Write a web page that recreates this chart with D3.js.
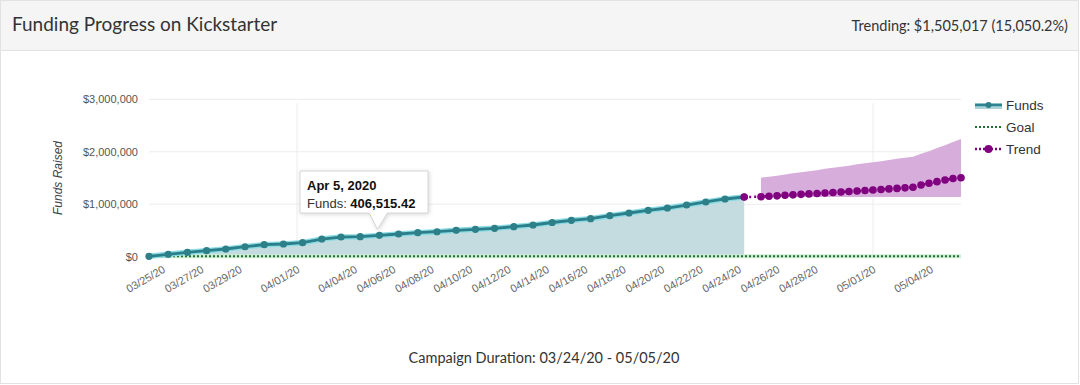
<!DOCTYPE html>
<html>
<head>
<meta charset="utf-8">
<script src="https://cdn.jsdelivr.net/npm/d3@7"></script>
<style>
  body { margin: 0; background: #fff; }
  #chart { width: 1080px; height: 385px; }
  text { font-family: "Liberation Sans", Arial, sans-serif; }
</style>
</head>
<body>
<div id="chart"></div>
<script>
// funds raised, one reading per day
const fundDates = ["2020-03-24T07:00","2020-03-25T07:00","2020-03-26T07:00","2020-03-27T07:00",
  "2020-03-28T07:00","2020-03-29T07:00","2020-03-30T07:00","2020-03-31T07:00","2020-04-01T07:00",
  "2020-04-02T07:00","2020-04-03T07:00","2020-04-04T07:00","2020-04-05T07:00","2020-04-06T07:00",
  "2020-04-07T07:00","2020-04-08T07:00","2020-04-09T07:00","2020-04-10T07:00","2020-04-11T07:00",
  "2020-04-12T07:00","2020-04-13T07:00","2020-04-14T07:00","2020-04-15T07:00","2020-04-16T07:00",
  "2020-04-17T07:00","2020-04-18T07:00","2020-04-19T07:00","2020-04-20T07:00","2020-04-21T07:00",
  "2020-04-22T07:00","2020-04-23T07:00","2020-04-24T07:00"];
const fundValues = [8000, 46000, 84000, 114000, 147000, 190000, 229000, 242000, 267000, 337000,
  375000, 381000, 406515.42, 433000, 457000, 476000, 503000, 522000, 541000, 572000, 604000,
  652000, 694000, 724000, 781000, 833000, 884000, 928000, 985000, 1043000, 1100000, 1138000];

// trend projection (first date is the last funds reading, so values start at the second date)
const trendDates = ["2020-04-24T07:00","2020-04-25T04:00","2020-04-25T14:00","2020-04-26T00:00",
  "2020-04-26T10:00","2020-04-26T20:00","2020-04-27T06:00","2020-04-27T16:00","2020-04-28T02:00",
  "2020-04-28T12:00","2020-04-28T22:00","2020-04-29T08:00","2020-04-29T18:00","2020-04-30T04:00",
  "2020-04-30T14:00","2020-05-01T00:00","2020-05-01T10:00","2020-05-01T20:00","2020-05-02T06:00",
  "2020-05-02T16:00","2020-05-03T02:00","2020-05-03T12:00","2020-05-03T22:00","2020-05-04T08:00",
  "2020-05-04T18:00","2020-05-05T04:00","2020-05-05T14:00"];
const trendValues = [1143000, 1152000, 1160000, 1170000, 1179000, 1188000, 1197000, 1206000,
  1215000, 1224000, 1233000, 1242000, 1252000, 1262000, 1272000, 1282000, 1292000, 1302000,
  1312000, 1324000, 1367000, 1399000, 1430000, 1462000, 1490000, 1505017];
const trendUpper = [1506000, 1525000, 1545000, 1565000, 1590000, 1610000, 1630000, 1650000,
  1675000, 1695000, 1715000, 1735000, 1760000, 1780000, 1800000, 1820000, 1845000, 1865000,
  1885000, 1905000, 1960000, 2010000, 2070000, 2125000, 2185000, 2243000];
const trendLower = [1137000, 1137000, 1137000, 1137000, 1137000, 1137000, 1137000, 1137000,
  1137000, 1137000, 1137000, 1137000, 1137000, 1137000, 1137000, 1137000, 1137000, 1137000,
  1137000, 1137000, 1137000, 1137000, 1137000, 1137000, 1137000, 1137000];

const goalValue = 10000;
const yTicks = [0, 1000000, 2000000, 3000000];
const xTicks = ["2020-03-25","2020-03-27","2020-03-29","2020-04-01","2020-04-04","2020-04-06",
  "2020-04-08","2020-04-10","2020-04-12","2020-04-14","2020-04-16","2020-04-18","2020-04-20",
  "2020-04-22","2020-04-24","2020-04-26","2020-04-28","2020-05-01","2020-05-04"];
const gridDates = ["2020-04-01", "2020-05-01"];

const parse = d3.timeParse("%Y-%m-%dT%H:%M");
const parseDay = d3.timeParse("%Y-%m-%d");

const funds = fundDates.map((d, i) => ({ date: parse(d), value: fundValues[i] }));
const trend = [{ date: parse(trendDates[0]), value: fundValues[fundValues.length - 1] }]
  .concat(trendDates.slice(1).map((d, i) => ({ date: parse(d), value: trendValues[i] })));
const band = trendDates.slice(1).map((d, i) => ({ date: parse(d), lo: trendLower[i], hi: trendUpper[i] }));

const width = 1080, height = 385;
const plot = { left: 149, right: 961, top: 99.3, bottom: 256.7 };

const svg = d3.select("#chart").append("svg")
  .attr("width", width).attr("height", height);

// card + header
svg.append("rect").attr("x", 0.5).attr("y", 0.5).attr("width", width - 2).attr("height", height - 2)
  .attr("fill", "#fff").attr("stroke", "#e2e2e2");
svg.append("rect").attr("x", 0.5).attr("y", 0.5).attr("width", width - 2).attr("height", 50)
  .attr("fill", "#f5f5f5").attr("stroke", "#e2e2e2");
svg.append("text").attr("x", 12).attr("y", 31)
  .style("font-family", "Lato, sans-serif").attr("font-size", 19).attr("fill", "#333")
  .text("Funding Progress on Kickstarter");
svg.append("text").attr("x", 1068).attr("y", 31).attr("text-anchor", "end")
  .style("font-family", "Lato, sans-serif").attr("font-size", 14.5).attr("fill", "#333")
  .text("Trending: $1,505,017 (15,050.2%)");
svg.append("text").attr("x", 544).attr("y", 363).attr("text-anchor", "middle")
  .style("font-family", "Lato, sans-serif").attr("font-size", 14.5).attr("fill", "#333")
  .text("Campaign Duration: 03/24/20 - 05/05/20");

const x = d3.scaleTime()
  .domain([funds[0].date, trend[trend.length - 1].date])
  .range([plot.left, plot.right]);
const y = d3.scaleLinear().domain([0, 3000000]).range([plot.bottom, plot.top]);

// grid
svg.append("g").selectAll("line").data(yTicks).enter().append("line")
  .attr("x1", plot.left).attr("x2", plot.right)
  .attr("y1", d => y(d)).attr("y2", d => y(d))
  .attr("stroke", "#ececec");
svg.append("g").selectAll("line").data(gridDates).enter().append("line")
  .attr("x1", d => x(parseDay(d))).attr("x2", d => x(parseDay(d)))
  .attr("y1", plot.top + 4).attr("y2", plot.bottom)
  .attr("stroke", "#ececec");

// y axis
const yAxis = svg.append("g")
  .attr("transform", `translate(${plot.left - 11},0)`)
  .call(d3.axisLeft(y).tickValues(yTicks).tickFormat(d3.format("$,")).tickSize(0).tickPadding(0));
yAxis.select(".domain").remove();
yAxis.selectAll("text").attr("font-size", 11).attr("fill", "#555")
  .style("font-family", "Liberation Sans, Arial, sans-serif");

svg.append("text")
  .attr("transform", `translate(62,${(plot.top + plot.bottom) / 2}) rotate(-90)`)
  .attr("text-anchor", "middle").attr("font-size", 12).attr("font-style", "italic")
  .attr("fill", "#444").text("Funds Raised");

// x axis
const xAxis = svg.append("g")
  .attr("transform", `translate(0,${plot.bottom})`)
  .call(d3.axisBottom(x).tickValues(xTicks.map(parseDay))
    .tickFormat(d3.timeFormat("%m/%d/%y")).tickSize(0).tickPadding(0));
xAxis.select(".domain").remove();
xAxis.selectAll("text")
  .attr("font-size", 11).attr("fill", "#666")
  .style("font-family", "Liberation Sans, Arial, sans-serif")
  .attr("text-anchor", "end")
  .attr("dy", 0)
  .attr("transform", "translate(3,15) rotate(-30)");

// trend band
svg.append("path").datum(band)
  .attr("fill", "#d5a9d9").attr("opacity", 0.95)
  .attr("d", d3.area().x(d => x(d.date)).y0(d => y(d.lo)).y1(d => y(d.hi)));

// funds area
svg.append("path").datum(funds)
  .attr("fill", "#c4dcdf")
  .attr("d", d3.area().x(d => x(d.date)).y0(y(0)).y1(d => y(d.value)));

// goal line
svg.append("line").attr("x1", plot.left).attr("x2", plot.right)
  .attr("y1", y(goalValue)).attr("y2", y(goalValue))
  .attr("stroke", "#cdeed3").attr("stroke-width", 4);
svg.append("line").attr("x1", plot.left).attr("x2", plot.right)
  .attr("y1", y(goalValue)).attr("y2", y(goalValue))
  .attr("stroke", "#1f6e35").attr("stroke-width", 2).attr("stroke-dasharray", "2,2");

// funds line
const fundLine = d3.line().x(d => x(d.date)).y(d => y(d.value));
svg.append("path").datum(funds).attr("fill", "none")
  .attr("stroke", "#8adbe4").attr("stroke-width", 5.5).attr("d", fundLine);
svg.append("path").datum(funds).attr("fill", "none")
  .attr("stroke", "#2b7f8a").attr("stroke-width", 2.8).attr("d", fundLine);
svg.append("g").selectAll("circle").data(funds).enter().append("circle")
  .attr("cx", d => x(d.date)).attr("cy", d => y(d.value)).attr("r", 3.6)
  .attr("fill", "#2d7f88");

// trend line
svg.append("path").datum(trend).attr("fill", "none")
  .attr("stroke", "#800080").attr("stroke-width", 2.5).attr("stroke-dasharray", "2,3")
  .attr("d", fundLine);
svg.append("g").selectAll("circle").data(trend).enter().append("circle")
  .attr("cx", d => x(d.date)).attr("cy", d => y(d.value)).attr("r", 3.8)
  .attr("fill", "#800080");

// legend
const legend = svg.append("g").attr("transform", "translate(975,0)");
legend.append("rect").attr("x", 0).attr("y", 103).attr("width", 27).attr("height", 6).attr("fill", "#a9d3d9");
legend.append("line").attr("x1", 0).attr("x2", 27).attr("y1", 105).attr("y2", 105)
  .attr("stroke", "#2e8591").attr("stroke-width", 2.5);
legend.append("circle").attr("cx", 13.5).attr("cy", 105).attr("r", 3).attr("fill", "#2d7f88");
legend.append("line").attr("x1", 0).attr("x2", 27).attr("y1", 127).attr("y2", 127)
  .attr("stroke", "#1f6e35").attr("stroke-width", 2).attr("stroke-dasharray", "2,2");
legend.append("line").attr("x1", 0).attr("x2", 27).attr("y1", 149).attr("y2", 149)
  .attr("stroke", "#800080").attr("stroke-width", 2.5).attr("stroke-dasharray", "2,2");
legend.append("circle").attr("cx", 13.5).attr("cy", 149).attr("r", 4).attr("fill", "#800080");
legend.selectAll("text.lg").data(["Funds", "Goal", "Trend"]).enter().append("text")
  .attr("class", "lg").attr("x", 31).attr("y", (d, i) => 110 + i * 22)
  .attr("font-size", 13.5).attr("fill", "#333").text(d => d);

// tooltip for Apr 5
const tip = funds[12];
const tx = x(tip.date), ty = y(tip.value);
const tg = svg.append("g");
tg.append("path")
  .attr("d", `M300,171 H428 V213 H${tx + 8} L${tx - 2},${ty - 6} L${tx - 10},213 H300 Z`)
  .attr("fill", "#fff").attr("stroke", "#d6d6d6")
  .style("filter", "drop-shadow(1px 1px 2px rgba(0,0,0,0.15))");
tg.append("text").attr("x", 307).attr("y", 190).attr("font-size", 13).attr("font-weight", "bold")
  .attr("fill", "#111").text(d3.timeFormat("%b %-d, %Y")(tip.date));
const t2 = tg.append("text").attr("x", 307).attr("y", 208).attr("font-size", 13).attr("fill", "#333");
t2.append("tspan").text("Funds: ");
t2.append("tspan").attr("font-weight", "bold").attr("fill", "#111").text(d3.format(",.2f")(tip.value));
</script>
</body>
</html>
